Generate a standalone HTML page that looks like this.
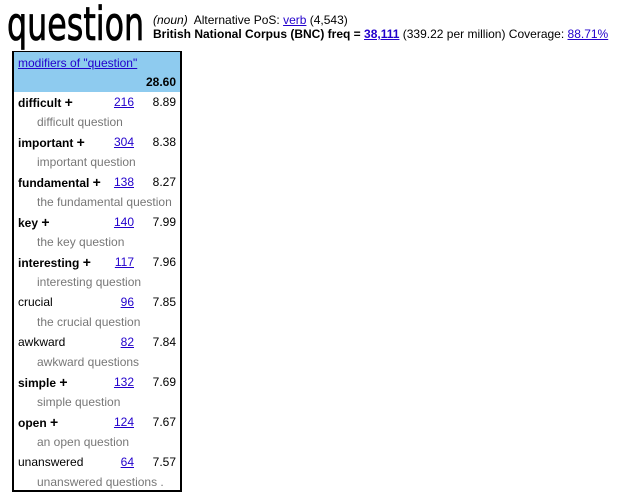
<!DOCTYPE html>
<html><head><meta charset="utf-8"><style>
body{margin:0;width:644px;height:501px;background:#fff;font-family:"Liberation Sans",Arial,sans-serif;font-size:12px;color:#000;position:relative;overflow:hidden}
.a{position:absolute;white-space:nowrap;line-height:14px}
a{color:#2200cc;text-decoration:underline}
#head{position:absolute;left:7px;top:-4px;font-family:"DejaVu Sans",sans-serif;font-size:46px;line-height:56px;transform:scaleX(0.69);transform-origin:0 0;-webkit-text-stroke:0.8px #000}
#box{position:absolute;left:12px;top:51px;width:166px;height:438px;border:2px solid #000;border-top:1px solid #000}
#band{position:absolute;left:0;top:0;width:166px;height:40px;background:#8ecbef}
.w{font-weight:normal}
.b{font-weight:bold}
.ex{color:#777}
</style></head><body>
<div id="head">question</div>
<div class="a" style="left:153px;top:13px"><i>(noun)</i>&nbsp; Alternative PoS: <a>verb</a> (4,543)</div>
<div class="a" style="left:153px;top:27px"><b>British National Corpus (BNC) freq =</b> <a><b>38,111</b></a> (339.22 per million) Coverage: <a>88.71%</a></div>
<div id="box">
<div id="band"></div>
<div class="a" style="left:4px;top:4px"><a>modifiers of "question"</a></div>
<div class="a b" style="right:4px;top:23px">28.60</div>
</div>
<script>
const words=["difficult","important","fundamental","key","interesting","crucial","awkward","simple","open","unanswered"];
const plus=[1,1,1,1,1,0,0,1,1,0];
const freqs=["216","304","138","140","117","96","82","132","124","64"];
const scores=["8.89","8.38","8.27","7.99","7.96","7.85","7.84","7.69","7.67","7.57"];
const examples=["difficult question","important question","the fundamental question","the key question","interesting question","the crucial question","awkward questions","simple question","an open question","unanswered questions ."];
const box=document.getElementById('box');
function mk(cls,left,right,top,html){const d=document.createElement('div');d.className='a '+cls;if(left!==null)d.style.left=left+'px';if(right!==null)d.style.right=right+'px';d.style.top=top+'px';d.innerHTML=html;box.appendChild(d);return d;}
words.forEach((w,i)=>{
 const y=43+40*i;
 const wd=mk(plus[i]?'b':'w',4,null,y,w+(plus[i]?' <b style="font-size:14px">+</b>':''));
 
 
 const f=mk('',null,46,y,'<a>'+freqs[i]+'</a>');
 
 
 const s=mk('w',null,4,y,scores[i]);
 
 
 const e=mk('ex',23,null,y+20,examples[i]);
 
 
});
</script>
</body></html>
